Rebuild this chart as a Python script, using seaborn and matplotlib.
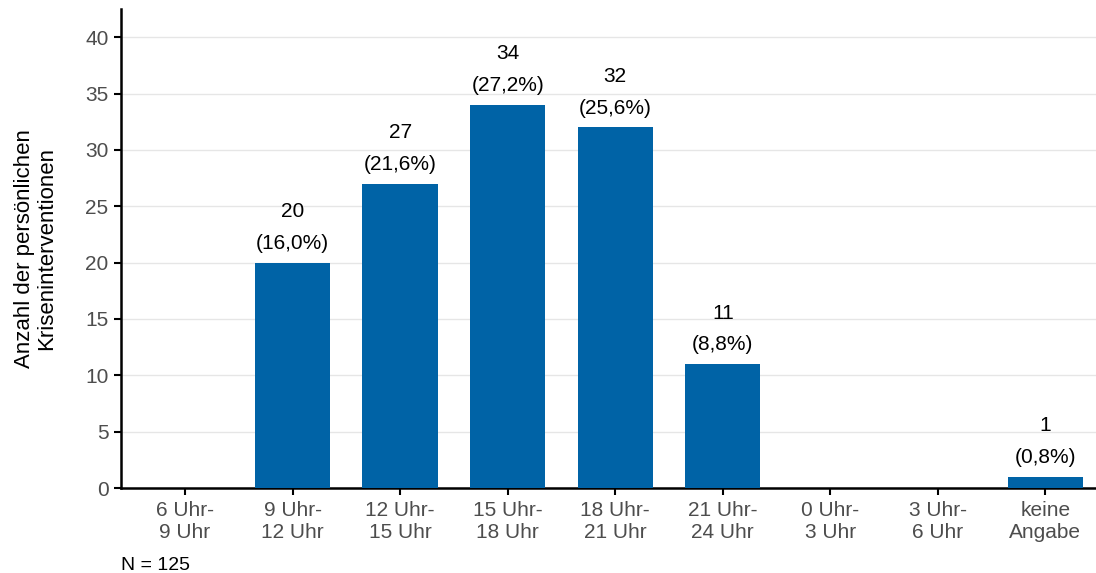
import matplotlib
matplotlib.use("Agg")
import matplotlib.pyplot as plt
import seaborn as sns
import pandas as pd

categories = ["6 Uhr-\n9 Uhr", "9 Uhr-\n12 Uhr", "12 Uhr-\n15 Uhr", "15 Uhr-\n18 Uhr",
              "18 Uhr-\n21 Uhr", "21 Uhr-\n24 Uhr", "0 Uhr-\n3 Uhr", "3 Uhr-\n6 Uhr",
              "keine\nAngabe"]
counts = [0, 20, 27, 34, 32, 11, 0, 0, 1]
percent_labels = ["0,0%", "16,0%", "21,6%", "27,2%", "25,6%", "8,8%", "0,0%", "0,0%", "0,8%"]
y_ticks = [0, 5, 10, 15, 20, 25, 30, 35, 40]

sns.set_theme(style="white")
plt.rcParams["font.family"] = ["Liberation Sans", "DejaVu Sans"]

df = pd.DataFrame({"Zeit": categories, "Anzahl": counts})

fig = plt.figure(figsize=(10.96, 5.73), dpi=100)
ax = fig.add_axes([121 / 1096, 1 - 488 / 573, (1096 - 121) / 1096, (488 - 9) / 573])

sns.barplot(data=df, x="Zeit", y="Anzahl", color="#0063A6", saturation=1,
            width=0.7, linewidth=0, edgecolor="none", ax=ax, zorder=3)

for i, (c, p) in enumerate(zip(counts, percent_labels)):
    if c > 0:
        ax.annotate(f"{c}\n({p})", (i, c), xytext=(0, 7), textcoords="offset points",
                    ha="center", va="bottom", fontsize=15, color="#000000",
                    linespacing=1.85)

ax.set_ylim(0, 42.5)
ax.set_xlim(-0.595, 8.47)
ax.set_yticks(y_ticks)
ax.yaxis.grid(True, color="#e6e6e6", linewidth=1, zorder=0)
ax.xaxis.grid(False)
ax.set_axisbelow(True)

for side in ["top", "right"]:
    ax.spines[side].set_visible(False)
for side in ["left", "bottom"]:
    ax.spines[side].set_color("black")
    ax.spines[side].set_linewidth(1.8)

ax.tick_params(axis="both", which="both", length=5, width=1.5, color="black",
               labelsize=15, labelcolor="#4d4d4d", left=True, bottom=True, pad=4)
ax.set_xlabel("")
ax.set_ylabel("Anzahl der persönlichen\nKriseninterventionen", fontsize=16,
              color="black", labelpad=20, linespacing=1.1)

fig.text(121 / 1096, 1 - 565 / 573, "N = 125", fontsize=14, color="black",
         ha="left", va="center")

fig.savefig("out.png", dpi=100)
